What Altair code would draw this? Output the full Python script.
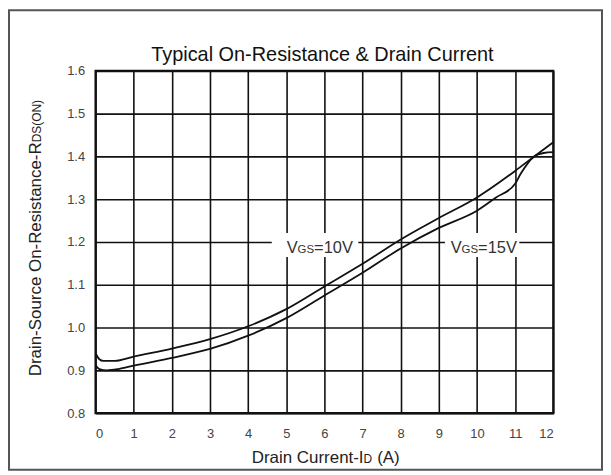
import altair as alt
import pandas as pd

# ---- data ----
amps_a = [0, 0.1, 0.2, 0.5, 1, 2, 3, 4, 5, 6, 7, 8, 9, 10, 11, 11.5, 12]
rds_a = [0.94, 0.926, 0.922, 0.922, 0.932, 0.951, 0.973, 1.003, 1.043, 1.096,
         1.149, 1.206, 1.256, 1.304, 1.366, 1.40, 1.433]
amps_b = [0, 0.1, 0.3, 0.6, 1, 2, 3, 4, 5, 6, 7, 8, 9, 10, 10.5, 11, 11.15,
          11.5, 11.75, 12]
rds_b = [0.912, 0.903, 0.90, 0.903, 0.911, 0.929, 0.95, 0.981, 1.022, 1.075,
         1.128, 1.185, 1.233, 1.273, 1.304, 1.336, 1.36, 1.40, 1.408, 1.41]

x_ticks = list(range(0, 13))
y_ticks = [0.8, 0.9, 1.0, 1.1, 1.2, 1.3, 1.4, 1.5, 1.6]

label_main = ["V", "V"]
label_sub = ["GS", "GS"]
label_rest = ["=10V", "=15V"]
label_x = [5.01, 9.31]
label_y = [1.174, 1.174]
box_x = [4.62, 9.16]
box_x2 = [6.89, 11.11]
box_y = [1.165, 1.165]
box_y2 = [1.221, 1.221]

title_text = "Typical On-Resistance & Drain Current"
xtitle_parts = ["Drain Current-I", "D", "(A)"]
ytitle_parts = ["Drain-Source On-Resistance-R", "DS(ON)"]

FONT = "Liberation Sans, Arial, Helvetica, sans-serif"

curves = pd.concat([
    pd.DataFrame({"id": amps_a, "rds": rds_a, "series": "A"}),
    pd.DataFrame({"id": amps_b, "rds": rds_b, "series": "B"}),
])
labels = pd.DataFrame({"x": label_x, "y": label_y, "main": label_main,
                       "sub": label_sub, "rest": label_rest})
boxes = pd.DataFrame({"x": box_x, "x2": box_x2, "y": box_y, "y2": box_y2})
one = pd.DataFrame({"k": [0]})

xs = alt.Scale(domain=[0, 12], nice=False)
ys = alt.Scale(domain=[0.8, 1.6], nice=False)
xaxis = alt.Axis(values=x_ticks, format="d", title=None, grid=True,
                 labelPadding=14, labelOverlap=False)
yaxis = alt.Axis(values=y_ticks, format=".1f", title=None, grid=True,
                 labelPadding=11, labelOverlap=False)


def X(field):
    return alt.X(field, scale=xs, axis=xaxis)


def Y(field):
    return alt.Y(field, scale=ys, axis=yaxis)


lines = alt.Chart(curves).mark_line(
    color="#111", strokeWidth=1.8, interpolate="monotone"
).encode(
    x=X("id:Q"),
    y=Y("rds:Q"),
    detail="series:N",
)

box_layer = alt.Chart(boxes).mark_rect(fill="white").encode(
    x=X("x:Q"), x2="x2:Q", y=Y("y:Q"), y2="y2:Q"
)


def label_piece(field, dx, size):
    return alt.Chart(labels).mark_text(
        align="left", baseline="alphabetic", dx=dx, fontSize=size,
        font=FONT, color="#333"
    ).encode(x=X("x:Q"), y=Y("y:Q"), text=f"{field}:N")


lab_main = label_piece("main", 0, 16.5)
lab_sub = label_piece("sub", 11.0, 11.5)
lab_rest = label_piece("rest", 27.6, 16.5)


def fixed_text(txt, x, y, size, angle=0, align="left", baseline="alphabetic",
               color="#222"):
    kw = dict(text=txt, align=align, baseline=baseline, fontSize=size,
              font=FONT, color=color)
    if angle:
        kw["angle"] = angle
    return alt.Chart(one).mark_text(**kw).encode(x=alt.value(x), y=alt.value(y))


title = fixed_text(title_text, 228, -10, 20, align="center", color="#111")
xt1 = fixed_text(xtitle_parts[0], 157, 394, 17)
xt2 = fixed_text(xtitle_parts[1], 269.4, 394, 12)
xt3 = fixed_text(xtitle_parts[2], 283, 394, 17)
yt1 = fixed_text(ytitle_parts[0], -54.5, 307, 17, angle=270)
yt2 = fixed_text(ytitle_parts[1], -54.5, 71.8, 12, angle=270)

frame = alt.Chart(one).mark_rect(
    fillOpacity=0, stroke="#555", strokeWidth=2
).encode(x=alt.value(-87), x2=alt.value(509), y=alt.value(-61),
         y2=alt.value(401))

chart = alt.layer(
    lines, box_layer, lab_main, lab_sub, lab_rest,
    title, xt1, xt2, xt3, yt1, yt2, frame
).properties(
    width=460, height=344,
    autosize=alt.AutoSizeParams(type="none"),
    padding={"left": 88, "top": 62, "right": 50, "bottom": 58},
    background="white",
).configure_view(
    stroke="#111", strokeWidth=2.2
).configure_axis(
    domain=False, ticks=False, gridColor="#111", gridWidth=1.6, gridOpacity=1,
    labelColor="#444", labelFont=FONT, labelFontSize=13,
)

chart.save("out.html", embed_options={"renderer": "svg", "actions": False})
